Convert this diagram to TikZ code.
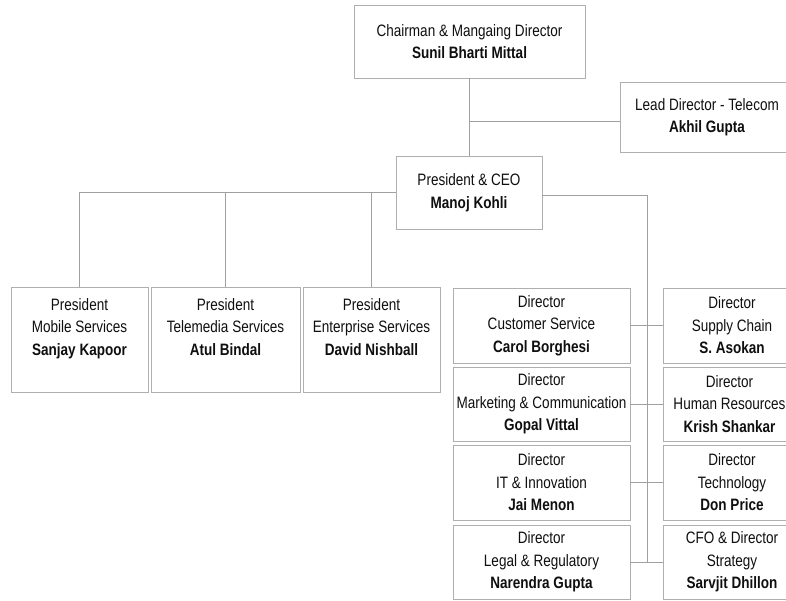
\documentclass[tikz,border=0pt]{standalone}
\usepackage{fontspec}
\setmainfont[FakeStretch=0.82]{Liberation Sans}
\definecolor{linec}{RGB}{160,160,160}
\definecolor{boxc}{RGB}{175,175,175}
\definecolor{txt}{RGB}{15,15,15}
\newcommand\myTopStrut{\rule{0pt}{12.5pt}}
\newcommand\myBotStrut{\rule[-26.5pt]{0pt}{0pt}}
\begin{document}
\begin{tikzpicture}[x=1pt,y=-1pt,
  orgbox/.style={draw=boxc, line width=0.9pt, align=center, inner sep=0pt, text=txt, font=\fontsize{16.5}{22.5}\selectfont},
  conn/.style={draw=linec, line width=0.9pt}]
\useasboundingbox (0,0) rectangle (786,600);
\fill[white] (0,0) rectangle (786,600);
% top
\node[orgbox, minimum width=231, minimum height=73] (chair) at (469.5,41.5) {Chairman \& Mangaing Director\\\textbf{Sunil Bharti Mittal}};
\node[orgbox, minimum width=174, minimum height=70] (lead) at (707,117) {Lead Director - Telecom\\\textbf{Akhil Gupta}};
\node[orgbox, minimum width=146, minimum height=73] (ceo) at (469,192.5) {President \& CEO\\\textbf{Manoj Kohli}};
% presidents
\node[orgbox, minimum width=137, minimum height=105] (mob) at (79.5,339.5) {\myTopStrut President\\Mobile Services\\\textbf{Sanjay Kapoor}\myBotStrut};
\node[orgbox, minimum width=149, minimum height=105] (tele) at (225.5,339.5) {\myTopStrut President\\Telemedia Services\\\textbf{Atul Bindal}\myBotStrut};
\node[orgbox, minimum width=137, minimum height=105] (ent) at (371.5,339.5) {\myTopStrut President\\Enterprise Services\\\textbf{David Nishball}\myBotStrut};
% directors left column
\node[orgbox, minimum width=177, minimum height=75] (cs) at (541.5,325.5) {Director\\Customer Service\\\textbf{Carol Borghesi}};
\node[orgbox, minimum width=177, minimum height=74] (mkt) at (541.5,404) {Director\\Marketing \& Communication\\\textbf{Gopal Vittal}};
\node[orgbox, minimum width=177, minimum height=75] (itd) at (541.5,482.5) {Director\\IT \& Innovation\\\textbf{Jai Menon}};
\node[orgbox, minimum width=177, minimum height=74] (legal) at (541.5,562) {Director\\Legal \& Regulatory\\\textbf{Narendra Gupta}};
% directors right column
\node[orgbox, minimum width=138, minimum height=75] (sc) at (732,325.5) {Director\\Supply Chain\\\textbf{S. Asokan}};
\node[orgbox, minimum width=133, minimum height=74] (hr) at (729.5,404) {Director\\Human Resources\\\textbf{Krish Shankar}};
\node[orgbox, minimum width=138, minimum height=75] (tech) at (732,482.5) {Director\\Technology\\\textbf{Don Price}};
\node[orgbox, minimum width=138, minimum height=74] (cfo) at (732,562) {CFO \& Director\\Strategy\\\textbf{Sarvjit Dhillon}};
% connectors
\coordinate (jl) at (469,121);
\coordinate (rb) at (647,195);
\draw[conn] (ceo.north) -- (ceo.north |- chair.south);
\draw[conn] (jl) -- (jl -| lead.west);
\draw[conn] (ceo.west) -| (mob.north);
\draw[conn] (tele.north) -- (tele.north |- ceo.west);
\draw[conn] (ent.north) -- (ent.north |- ceo.west);
\draw[conn] (ceo.east |- rb) -- (rb) -- (rb |- legal.east);
\draw[conn] (cs.east) -- (sc.west);
\draw[conn] (mkt.east) -- (hr.west);
\draw[conn] (itd.east) -- (tech.west);
\draw[conn] (legal.east) -- (cfo.west);
\end{tikzpicture}
\end{document}
